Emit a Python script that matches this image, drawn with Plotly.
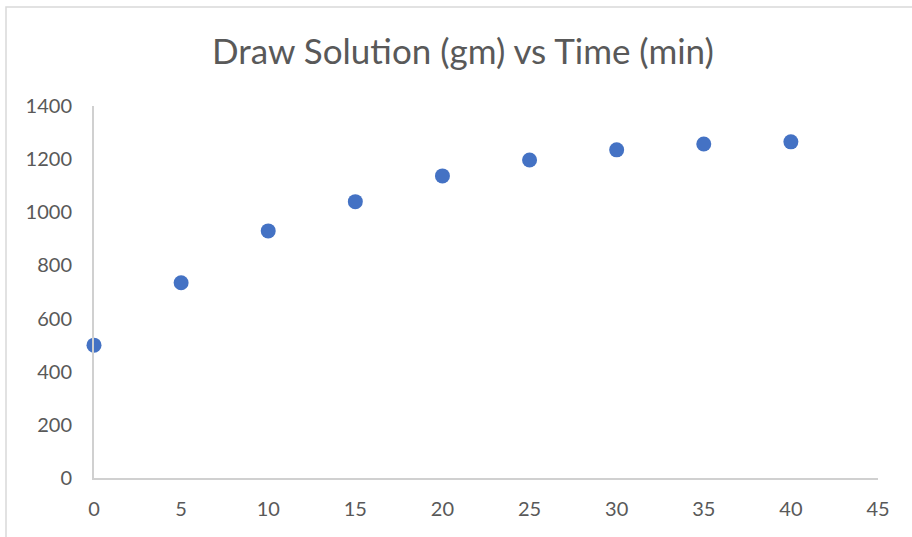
import plotly.graph_objects as go

# Draw solution mass recorded over time
time_min = [0, 5, 10, 15, 20, 25, 30, 35, 40]
draw_solution_gm = [500, 735, 930, 1040, 1137, 1197, 1235, 1257, 1265]

x_ticks = [0, 5, 10, 15, 20, 25, 30, 35, 40, 45]
y_ticks = [0, 200, 400, 600, 800, 1000, 1200, 1400]

W, H = 912, 537
L, R, T, B = 94, 34, 106, 59
pw, ph = W - L - R, H - T - B

font_family = "Lato, 'Open Sans', sans-serif"
text_grey = "#595959"
axis_grey = "#d0d0d0"

fig = go.Figure()
fig.add_trace(go.Scatter(
    x=time_min, y=draw_solution_gm, mode="markers",
    marker=dict(color="#4472C4", size=15, line=dict(width=0)),
    showlegend=False, cliponaxis=False,
))

def px_to_paper_x(px):
    return (px - L) / pw

def py_to_paper_y(py):
    return (H - B - py) / ph

fig.update_layout(
    width=W, height=H,
    margin=dict(l=L, r=R, t=T, b=B),
    paper_bgcolor="white", plot_bgcolor="white",
    title=dict(
        text="Draw Solution (gm) vs Time (min)",
        x=463 / W, xref="container", xanchor="center",
        y=1 - 52 / H, yref="container", yanchor="middle",
        font=dict(family=font_family, size=35, color=text_grey),
    ),
    xaxis=dict(
        range=[0, 45], tickvals=x_ticks, ticktext=[str(v) for v in x_ticks],
        showgrid=False, zeroline=False, showline=True,
        linecolor=axis_grey, linewidth=2, ticks="",
        ticklabelstandoff=12,
        tickfont=dict(family=font_family, size=20, color=text_grey),
    ),
    yaxis=dict(
        range=[0, 1400], tickvals=y_ticks, ticktext=[str(v) for v in y_ticks],
        showgrid=False, zeroline=False, showline=True,
        linecolor=axis_grey, linewidth=2, ticks="",
        ticklabelstandoff=16,
        tickfont=dict(family=font_family, size=20, color=text_grey),
    ),
    shapes=[dict(
        type="rect", xref="paper", yref="paper",
        x0=px_to_paper_x(6), x1=px_to_paper_x(940),
        y0=py_to_paper_y(580), y1=py_to_paper_y(7),
        line=dict(color="#d9d9d9", width=1.5), layer="below",
    )],
)

fig.write_html("out.html")
